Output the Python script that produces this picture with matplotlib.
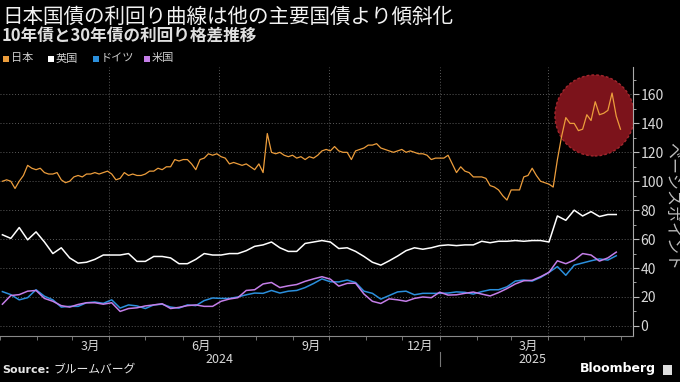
import numpy as np
import pandas as pd
import matplotlib
matplotlib.use("Agg")
import matplotlib.pyplot as plt
import matplotlib.dates as mdates
from matplotlib.patches import Ellipse, Rectangle
from matplotlib.transforms import blended_transform_factory

plt.rcParams['font.family'] = ['Noto Sans CJK JP', 'DejaVu Sans']

# 10年債と30年債の利回り格差 (ベーシスポイント)
# 日本: 週2回ペース, 他: 週次
japan = [100, 101, 100, 95, 100, 104, 111, 109, 108, 109, 106, 105, 105, 106, 101, 99,
         100, 103, 104, 103, 105, 105, 106, 105, 106, 107, 105, 101, 102, 106, 104, 105,
         104, 104, 105, 107, 107, 109, 108, 110, 110, 115, 114, 115, 115, 112, 108, 115,
         116, 119, 118, 119, 117, 116, 112, 113, 112, 111, 112, 110, 108, 112, 106, 133,
         120, 119, 120, 118, 117, 118, 116, 117, 115, 117, 116, 118, 121, 122, 121, 124,
         121, 120, 120, 115, 121, 122, 123, 125, 125, 126, 123, 122, 121, 120, 121, 122,
         120, 121, 120, 119, 119, 118, 115, 116, 116, 116, 118, 112, 106, 110, 107, 106,
         103, 103, 103, 102, 97, 96, 94, 90, 87, 94, 94, 94, 103, 104, 109, 104,
         100, 99, 98, 96, 115, 131, 144, 140, 140, 135, 136, 146, 142, 155, 146, 147,
         149, 161, 145, 136]

uk = [63, 60.5, 68, 59.5, 65, 58, 50, 54, 47, 43.4, 44, 46, 49, 49, 49, 50,
      44.6, 44.6, 48, 48, 47, 43, 43, 46, 50, 49, 49, 50, 50, 52, 55, 56,
      58, 54, 51.5, 51.5, 57, 58, 59, 58, 53.5, 54, 51.5, 48, 44, 42, 45, 48.3,
      52, 54, 53, 54, 55.5, 56, 55.5, 56, 56, 58.5, 57.5, 58.5, 58.5, 59, 58.5, 59,
      59, 58, 76, 73, 80, 76, 79, 75.6, 77, 77]

germany = [23.7, 21.6, 18, 19.5, 25, 20.5, 18, 13, 13.5, 13.5, 16, 16.5, 15.6, 18, 12.3, 14.5,
           13.8, 12, 14.5, 15, 13, 12.3, 14.5, 14, 17.5, 19.3, 19, 19, 20, 21.5, 22.7, 22.5,
           24.5, 22.7, 24, 24.5, 26.5, 29.3, 32.5, 30.5, 30.4, 31.7, 30, 24, 22.5, 18.5, 21, 23.5,
           24, 21.5, 22.5, 22.5, 22.5, 22.7, 23.5, 23.2, 22, 23.7, 25, 25, 27, 31, 31.7, 31,
           33.5, 37, 41, 35, 42, 43.5, 45, 46.3, 45.5, 48.5]

us = [15, 21, 21.6, 24, 24.5, 19, 17, 14, 13, 14.8, 16, 16, 15, 16, 10, 12,
      12.5, 13.8, 14.5, 15.3, 12, 12.8, 14, 14.5, 13.5, 13.5, 17, 18.6, 19.5, 24.5, 25, 29,
      30, 26.5, 27.7, 28.6, 30.8, 32.5, 34, 32.3, 27.5, 29.4, 29.5, 22, 17, 15.5, 18.7, 18,
      17, 19, 20, 19.5, 23.3, 21.3, 21.5, 22.5, 23.4, 22, 20.7, 23, 25.8, 29, 31.2, 31.5,
      34, 37, 45, 43, 45.5, 50, 49, 44.8, 47, 51]

dates_jp = pd.date_range('2024-01-03', periods=len(japan), freq='84h')
dates_wk = pd.date_range('2024-01-03', periods=len(uk), freq='7D')

c_jp = '#ec9d3c'
c_uk = '#ffffff'
c_de = '#2b8fdc'
c_us = '#c47ee8'
bg = '#000000'
txt = '#d9d9d9'

fig = plt.figure(figsize=(6.8, 3.82), dpi=100, facecolor=bg)
ax = fig.add_axes([0.0, 0.1204, 0.931, 0.7042], facecolor=bg)

# ハイライト円
circ = Ellipse((mdates.date2num(pd.Timestamp('2025-05-10')), 145.5), width=66, height=56,
               facecolor='#7c131b', edgecolor='#a3262d', linestyle=(0, (2, 1.5)),
               linewidth=1.0, zorder=1)
ax.add_patch(circ)

ax.plot(dates_wk, germany, color=c_de, lw=1.1, zorder=3)
ax.plot(dates_wk, us, color=c_us, lw=1.1, zorder=3)
ax.plot(dates_wk, uk, color=c_uk, lw=1.1, zorder=3)
ax.plot(dates_jp, japan, color=c_jp, lw=0.9, zorder=4)

ax.set_xlim(pd.Timestamp('2024-01-01'), pd.Timestamp('2025-06-11'))
ax.set_ylim(-7, 179)

# y軸 (右側)
ax.yaxis.tick_right()
ax.set_yticks(range(0, 161, 20))
ax.set_yticks(range(0, 171, 10), minor=True)
ax.tick_params(axis='y', which='major', colors='#bbbbbb', labelcolor=txt, labelsize=10,
               length=4, width=0.8, pad=1.5)
ax.tick_params(axis='y', which='minor', colors='#bbbbbb', length=2, width=0.6)
for v in range(0, 161, 20):
    ax.axhline(v, color='#5a5a5a', lw=0.7, linestyle=(0, (1, 2)), zorder=0)
ax.text(1.061, 0.483, 'ベーシスポイント', transform=ax.transAxes, rotation=-90,
        ha='center', va='center', color='#bbbbbb', fontsize=11.5)

# x軸
ax.xaxis.set_major_locator(mdates.MonthLocator())
ax.xaxis.set_major_formatter(plt.NullFormatter())
ax.tick_params(axis='x', which='major', colors='#888888', length=3, width=0.6)
label_days = pd.to_datetime(['2024-03-16', '2024-06-16', '2024-09-16', '2024-12-16', '2025-03-16'])
ax.set_xticks(label_days, minor=True)
ax.set_xticklabels(['3月', '6月', '9月', '12月', '3月'], minor=True)
ax.tick_params(axis='x', which='minor', length=0, labelcolor=txt, labelsize=9, pad=3)
for d in ['2024-04-01', '2024-07-01', '2024-10-01', '2025-01-01', '2025-04-01']:
    ax.axvline(pd.Timestamp(d), color='#5a5a5a', lw=0.7, linestyle=(0, (1, 2)), zorder=0)

trans = blended_transform_factory(ax.transData, ax.transAxes)
ax.text(pd.Timestamp('2024-07-02'), -0.087, '2024', transform=trans, ha='center', va='center',
        color=txt, fontsize=9)
ax.text(pd.Timestamp('2025-03-19'), -0.087, '2025', transform=trans, ha='center', va='center',
        color=txt, fontsize=9)
ax.plot([pd.Timestamp('2025-01-01')] * 2, [-0.06, -0.11], transform=trans, color='#777777',
        lw=0.8, clip_on=False)

for s in ['top', 'left']:
    ax.spines[s].set_visible(False)
ax.spines['bottom'].set_color('#888888')
ax.spines['right'].set_color('#aaaaaa')

# タイトル
fig.text(0.003, 0.957, '日本国債の利回り曲線は他の主要国債より傾斜化', color='#f2f2f2',
         fontsize=14.8, ha='left', va='center')
fig.text(0.003, 0.907, '10年債と30年債の利回り格差推移', color='#e0e0e0', fontsize=12,
         fontweight='bold', ha='left', va='center')

# 凡例
legend_items = [('日本', c_jp, 3), ('英国', c_uk, 48), ('ドイツ', c_de, 93), ('米国', c_us, 144)]
for name, col, px in legend_items:
    fig.patches.append(Rectangle((px / 680, 1 - 62 / 382), 6 / 680, 6 / 382, transform=fig.transFigure,
                                 facecolor=col, edgecolor='none'))
    fig.text((px + 8) / 680, 1 - 58.5 / 382, name, color='#cfcfcf', fontsize=8, ha='left', va='center')

# 出典
fig.text(0.004, 0.018, 'Source:', color='#e6e6e6', fontsize=8, fontweight='bold',
         family='DejaVu Sans', ha='left', va='bottom')
fig.text(0.079, 0.018, 'ブルームバーグ', color='#e6e6e6', fontsize=8.5, ha='left', va='bottom')
fig.text(0.965, 0.018, 'Bloomberg', color='#ffffff', fontsize=9, fontweight='bold',
         family='DejaVu Sans', ha='right', va='bottom')
fig.patches.append(Rectangle((663 / 680, 7 / 382), 9 / 680, 10 / 382, transform=fig.transFigure,
                             facecolor='#dddddd', edgecolor='none'))

fig.savefig('out.png', dpi=100, facecolor=bg)
